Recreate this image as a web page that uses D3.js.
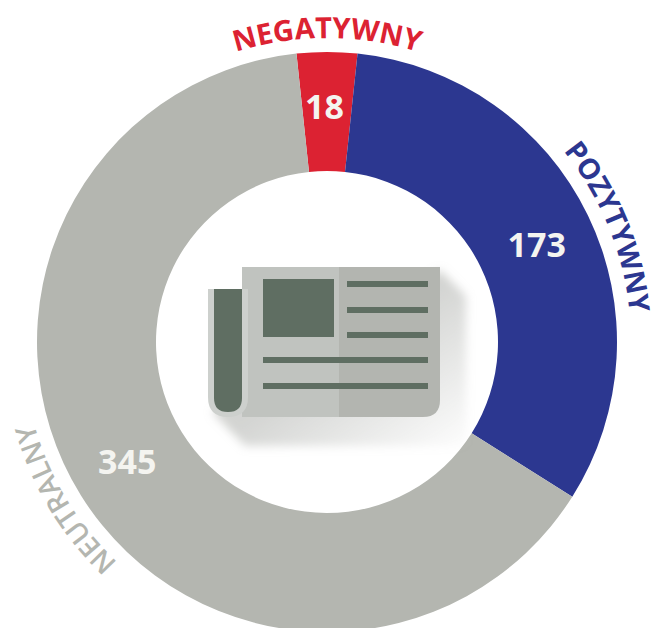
<!DOCTYPE html>
<html>
<head>
<meta charset="utf-8">
<script src="https://cdn.jsdelivr.net/npm/d3@7"></script>
<style>
	html, body { margin: 0; padding: 0; background: #fff; overflow: hidden; }
	svg { display: block; }
	text { font-family: "Open Sans", sans-serif; }
</style>
</head>
<body>
<script>

// Chart data
var categories = ["NEGATYWNY", "POZYTYWNY", "NEUTRALNY"];
var values = [18, 173, 345];
var colors = ["#dc2232", "#2c3790", "#b4b6b0"];

var width = 653,
	height = 628;

var cx = 327,
	cy = 342,
	outerRadius = 290,
	innerRadius = 171,
	labelRadius = 304;

var svg = d3.select("body").append("svg")
	.attr("width", width)
	.attr("height", height);

var defs = svg.append("defs");

var chart = svg.append("g")
	.attr("transform", "translate(" + cx + "," + cy + ")");

// First slice sits centred on 12 o'clock
var firstHalf = Math.PI * values[0] / d3.sum(values);

var pie = d3.pie()
	.sort(null)
	.startAngle(-firstHalf)
	.endAngle(2 * Math.PI - firstHalf);

var arc = d3.arc()
	.innerRadius(innerRadius)
	.outerRadius(outerRadius);

var slices = pie(values);

chart.selectAll("path.slice")
	.data(slices)
	.enter()
	.append("path")
	.attr("class", "slice")
	.attr("d", arc)
	.attr("fill", function(d, i) { return colors[i]; });

// Value labels, positions are given as angle and radius inside the ring
var valuePos = [
	{a: -0.6, r: 235},
	{a: 65.2, r: 231},
	{a: 239, r: 233}
];

chart.selectAll("text.value")
	.data(values)
	.enter()
	.append("text")
	.attr("class", "value")
	.attr("transform", function(d, i) {
		var a = valuePos[i].a * Math.PI / 180;
		return "translate(" + (valuePos[i].r * Math.sin(a)) + "," + (-valuePos[i].r * Math.cos(a)) + ")";
	})
	.attr("text-anchor", "middle")
	.attr("dy", "0.36em")
	.attr("font-size", 34)
	.attr("font-weight", 700)
	.attr("fill", "#f4f4f0")
	.text(function(d) { return d; });

// Curved category labels follow a circle around the ring
var labelCenter = [0, 67.8, 239];
var labelSize = [29, 28.5, 28];
var labelWeight = [700, 700, 600];

categories.forEach(function(name, i) {
	var mid = (labelCenter[i] - 90) * Math.PI / 180;
	var p = d3.path();
	p.arc(0, 0, labelRadius, mid - 1.2, mid + 1.2);
	defs.append("path")
		.attr("id", "label-path-" + i)
		.attr("d", p.toString());
	chart.append("text")
		.attr("font-size", labelSize[i])
		.attr("font-weight", labelWeight[i])
		.attr("text-anchor", "middle")
		.attr("fill", colors[i])
		.append("textPath")
		.attr("href", "#label-path-" + i)
		.attr("startOffset", "50%")
		.text(name);
});

// Newspaper icon in the hole
var shadow = defs.append("linearGradient")
	.attr("id", "icon-shadow")
	.attr("x1", 0).attr("y1", 0).attr("x2", 1).attr("y2", 1);
shadow.append("stop").attr("offset", "0.5").attr("stop-color", "#a8aaa6").attr("stop-opacity", 0.5);
shadow.append("stop").attr("offset", "1").attr("stop-color", "#a8aaa6").attr("stop-opacity", 0.02);

defs.append("filter")
	.attr("id", "icon-blur")
	.attr("x", "-20%").attr("y", "-20%").attr("width", "140%").attr("height", "140%")
	.append("feGaussianBlur")
	.attr("stdDeviation", 5);

var icon = svg.append("g").attr("class", "icon");

icon.append("path")
	.attr("d", "M440,270 L466,296 L466,446 L245,446 L212,412 Z")
	.attr("fill", "url(#icon-shadow)")
	.attr("filter", "url(#icon-blur)");

// Pages: left half, right half
icon.append("path")
	.attr("d", "M242,267 H339 V417 H242 Z")
	.attr("fill", "#c0c3bf");
icon.append("path")
	.attr("d", "M339,267 H440 V400 Q440,417 423,417 H339 Z")
	.attr("fill", "#b3b5b0");

// Folded back page
icon.append("path")
	.attr("d", "M208,289 H248 V397 Q248,417 228,417 Q208,417 208,397 Z")
	.attr("fill", "#cdd0cd");
icon.append("path")
	.attr("d", "M214,289 H242 V398 Q242,412 228,412 Q214,412 214,398 Z")
	.attr("fill", "#5f6e62");

// Photo and text lines
var iconInk = "#5f6e62";
var iconRects = [
	[263, 279, 71, 58],
	[347, 281, 81, 6],
	[347, 307, 81, 6],
	[347, 332, 81, 6],
	[263, 357, 165, 6],
	[263, 383, 165, 6]
];

icon.selectAll("rect")
	.data(iconRects)
	.enter()
	.append("rect")
	.attr("x", function(d) { return d[0]; })
	.attr("y", function(d) { return d[1]; })
	.attr("width", function(d) { return d[2]; })
	.attr("height", function(d) { return d[3]; })
	.attr("fill", iconInk);

</script>
</body>
</html>
